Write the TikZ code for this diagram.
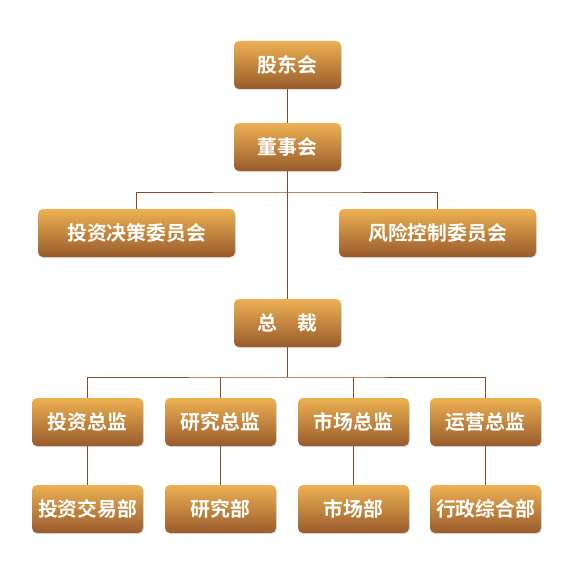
\documentclass[tikz,border=0pt]{standalone}
\usepackage{fontspec}
\newfontfamily\cjk{Noto Sans CJK SC}[BoldFont={Noto Sans CJK SC Bold}]
\usetikzlibrary{shadows}
\definecolor{topc}{HTML}{EDB152}
\definecolor{botc}{HTML}{985B2C}
\definecolor{linec}{HTML}{8B4A22}
\begin{document}
\begin{tikzpicture}[x=1pt,y=-1pt,
  box/.style={rounded corners=5pt, top color=topc, bottom color=botc, draw=none,
    minimum height=48pt, inner sep=0pt, text=white,
    font=\cjk\bfseries\fontsize{19.8}{20}\selectfont,
    drop shadow={shadow xshift=0.8pt, shadow yshift=-1.2pt, opacity=0.25}},
  small/.style={box, minimum width=107pt},
  mid/.style={box, minimum width=111pt},
  wide/.style={box, minimum width=197pt},
  conn/.style={draw=linec, line width=0.8pt}]
\useasboundingbox (0,0) rectangle (580,567);
\fill[white] (0,0) rectangle (580,567);
\node[small] (gd) at (287.5,65) {股东会};
\node[small] (ds) at (287.5,147) {董事会};
\node[wide] (tz) at (136.5,233) {投资决策委员会};
\node[wide] (fx) at (437.5,233) {风险控制委员会};
\node[small] (zc) at (287.5,323) {总\hspace{1em}裁};
\node[mid] (d1) at (87.5,422) {投资总监};
\node[mid] (d2) at (220.5,422) {研究总监};
\node[mid] (d3) at (353.5,422) {市场总监};
\node[mid] (d4) at (485.5,422) {运营总监};
\node[mid] (b1) at (87.5,509) {投资交易部};
\node[mid] (b2) at (220.5,509) {研究部};
\node[mid] (b3) at (353.5,509) {市场部};
\node[mid] (b4) at (485.5,509) {行政综合部};
\coordinate (h1) at (287.5,192);
\coordinate (h2) at (287.5,377);
\draw[conn] (gd.south) -- (ds.north);
\draw[conn] (ds.south) -- (zc.north);
\draw[conn] (tz.north) |- (h1) -| (fx.north);
\draw[conn] (d1.north) |- (h2) -| (d4.north);
\draw[conn] (d2.north) -- (d2.north |- h2);
\draw[conn] (d3.north) -- (d3.north |- h2);
\draw[conn] (zc.south) -- (h2);
\draw[conn] (d1.south) -- (b1.north);
\draw[conn] (d2.south) -- (b2.north);
\draw[conn] (d3.south) -- (b3.north);
\draw[conn] (d4.south) -- (b4.north);
\end{tikzpicture}
\end{document}
